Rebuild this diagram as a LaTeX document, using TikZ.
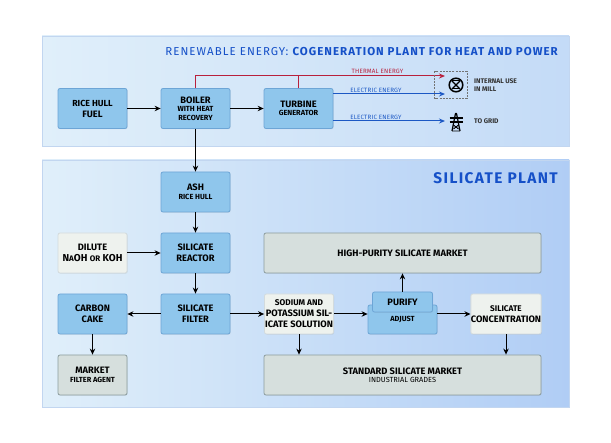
\documentclass[tikz,border=0pt]{standalone}
\usepackage{fontspec}
\setmainfont{Fira Sans}
\newfontfamily\ttlfont[LetterSpace=9]{Fira Sans}
\newfontfamily\lblfont[LetterSpace=3]{Fira Sans}
\usetikzlibrary{arrows.meta,shadows}
\definecolor{boxblue}{HTML}{8FC6EC}
\definecolor{boxedge}{HTML}{6DA5D6}
\definecolor{greybox}{HTML}{D6DFDD}
\definecolor{greyedge}{HTML}{8C9C9E}
\definecolor{whitebox}{HTML}{EEF2EE}
\definecolor{whiteedge}{HTML}{D3DBDD}
\definecolor{ttlblue}{HTML}{1550C8}
\definecolor{linered}{HTML}{B8203C}
\definecolor{lineblue}{HTML}{1C58C4}
\definecolor{panelL}{HTML}{E0EFFA}
\definecolor{panelRa}{HTML}{C4DBF7}
\definecolor{panelRb}{HTML}{B0CDF5}
\definecolor{paneledge}{HTML}{C2D6F0}
\tikzset{
  flowbox/.style={rounded corners=2pt,line width=0.8pt,align=center,inner sep=0pt,
    font=\bfseries\fontsize{9.3}{11}\selectfont,text=black,
    drop shadow={shadow xshift=0.6pt,shadow yshift=-0.6pt,opacity=0.18}},
  bluebox/.style={flowbox,fill=boxblue,draw=boxedge},
  greyb/.style={flowbox,fill=greybox,draw=greyedge},
  whiteb/.style={flowbox,fill=whitebox,draw=whiteedge},
  smallb/.style={minimum width=69pt,minimum height=40pt},
  wideb/.style={minimum width=277pt,minimum height=40pt},
  flow/.style={draw=black,line width=1pt,-{Stealth[length=6pt,width=5.5pt]}},
  redflow/.style={draw=linered,line width=1pt},
  blueflow/.style={draw=lineblue,line width=1pt},
  lbl/.style={font=\lblfont\fontsize{6.2}{8}\selectfont,inner sep=0pt},
  sidelbl/.style={font=\bfseries\fontsize{6.7}{8}\selectfont,inner sep=0pt,anchor=west,align=left,text=black!80},
}
\newcommand{\subt}[1]{{\fontsize{7.4}{9}\selectfont #1}}
\begin{document}
\begin{tikzpicture}[x=1pt,y=-1pt]
\useasboundingbox (0,0) rectangle (611,443);
\fill[white] (0,0) rectangle (611,443);
% panels
\shade[left color=panelL,right color=panelRa] (42,36) rectangle (569,146);
\draw[draw=paneledge,line width=0.8pt] (42,36) rectangle (569,146);
\shade[left color=panelL,right color=panelRb] (42,160) rectangle (569,407);
\draw[draw=paneledge,line width=0.8pt] (42,160) rectangle (569,407);
% titles
\node[anchor=east,inner sep=0pt,text=ttlblue,font=\fontsize{11.5}{13}\selectfont] (ttlA) at (558,51.5)
  {\ttlfont RENEWABLE ENERGY: \bfseries COGENERATION PLANT FOR HEAT AND POWER};
\node[anchor=east,inner sep=0pt,text=ttlblue,font=\fontsize{15.4}{17}\selectfont\bfseries] (ttlB) at (558,178)
  {\ttlfont\bfseries SILICATE PLANT};
% boxes
\node[bluebox,smallb] (rice) at (92.5,108.5) {\fontsize{8.8}{12}\selectfont RICE HULL\\FUEL};
\node[bluebox,smallb] (boiler) at (195.5,108.5) {BOILER\\[-2.5pt]\subt{WITH HEAT}\\[-2.5pt]\subt{RECOVERY}};
\node[bluebox,smallb] (turbine) at (298.5,108.5) {TURBINE\\[-2.5pt]\subt{GENERATOR}};
\node[bluebox,smallb] (ash) at (195.5,192) {ASH\\[-2.5pt]\subt{RICE HULL}};
\node[whiteb,smallb] (dilute) at (92.5,253) {\fontsize{9.3}{12}\selectfont DILUTE\\{\fontsize{10}{12}\selectfont N{\fontsize{8}{9}\selectfont A}OH {\fontsize{8}{9}\selectfont OR} KOH}};
\node[bluebox,smallb] (reactor) at (195.5,253) {\fontsize{9.3}{12}\selectfont SILICATE\\REACTOR};
\node[bluebox,smallb] (carbon) at (92.5,314) {\fontsize{9.3}{12}\selectfont CARBON\\CAKE};
\node[bluebox,smallb] (filter) at (195.5,314) {\fontsize{9.3}{12}\selectfont SILICATE\\FILTER};
\node[greyb,smallb] (market) at (92.5,375) {MARKET\\[-2.5pt]\subt{FILTER AGENT}};
\node[whiteb,smallb] (sodium) at (299,314) {\fontsize{8.3}{9.7}\selectfont SODIUM AND\\POTASSIUM SIL-\\ICATE SOLUTION};
\node[greyb,wideb] (high) at (402.5,253) {HIGH-PURITY SILICATE MARKET};
\node[greyb,wideb] (standard) at (402.5,375) {STANDARD SILICATE MARKET\\[-2.5pt]\subt{\mdseries INDUSTRIAL GRADES}};
\node[bluebox,minimum width=69pt,minimum height=29pt] (adjust) at (402.5,319.5) {\raisebox{-5pt}{\subt{ADJUST}}};
\node[bluebox,minimum width=60pt,minimum height=20pt] (purify) at (402.5,302) {PURIFY};
\node[whiteb,smallb,minimum width=70pt] (conc) at (506,314) {\fontsize{8.2}{10}\selectfont SILICATE\\CONCENTRATION};
% free ends
\coordinate (tRed) at (445,76);
\coordinate (tMill) at (445,94);
\coordinate (tGrid) at (445,121);
\coordinate (aL) at (adjust.west |- conc);
\coordinate (aR) at (adjust.east |- conc);
% connectors
\draw[flow] (rice) -- (boiler);
\draw[flow] (boiler) -- (turbine);
\draw[flow] (boiler) -- (ash);
\draw[flow] (ash) -- (reactor);
\draw[flow] (dilute) -- (reactor);
\draw[flow] (reactor) -- (filter);
\draw[flow] (filter) -- (carbon);
\draw[flow] (filter) -- (sodium);
\draw[flow] (carbon) -- (market);
\draw[flow] (sodium) -- (sodium |- standard.north);
\draw[flow] (sodium) -- (aL);
\draw[flow] (aR) -- (conc);
\draw[flow] (purify) -- (high);
\draw[flow] (conc) -- (conc |- standard.north);
% energy lines
\draw[redflow,-{Stealth[length=6pt,width=5pt]}] (boiler.north) |- (tRed);
\draw[redflow] (turbine.north) -- (turbine.north |- tRed);
\draw[blueflow,-{Stealth[length=6pt,width=5pt]}] (turbine.east |- tMill) -- (tMill);
\draw[blueflow,-{Stealth[length=6pt,width=5pt]}] (turbine.east |- tGrid) -- (tGrid);
\node[lbl,text=linered] (lThermal) at (377.5,71.5) {THERMAL ENERGY};
\node[lbl,text=lineblue] (lElecA) at (376,90) {ELECTRIC ENERGY};
\node[lbl,text=lineblue] (lElecB) at (376,117) {ELECTRIC ENERGY};
% dashed mill frame
\draw[draw=black!55,line width=0.6pt,dash pattern=on 2pt off 1.2pt] (434.5,71.5) rectangle (467,98.5);
% mill icon
\draw[line width=1.5pt] (456,85) circle (6.8);
\draw[line width=1.1pt] (452,81) -- (460,89) (460,81) -- (452,89);
\draw[line width=1pt] (452,81) -- (460,81) (452,89) -- (460,89);
% pylon icon
\draw[line width=1.2pt,line join=round] (452,131) -- (455.5,113.5) -- (456.5,113.5) -- (460,131);
\draw[line width=1.3pt] (449.5,118) -- (462.5,118) (449.5,122) -- (462.5,122);
\draw[line width=0.9pt] (453.5,125) -- (458.5,129) (458.5,125) -- (453.5,129) (452,131) -- (460,131);
% side labels
\node[sidelbl] (lInt) at (474,81) {INTERNAL USE};
\node[sidelbl] (lMill) at (474,89) {IN MILL};
\node[sidelbl] (lGrid) at (474,121) {TO GRID};
\end{tikzpicture}
\end{document}
